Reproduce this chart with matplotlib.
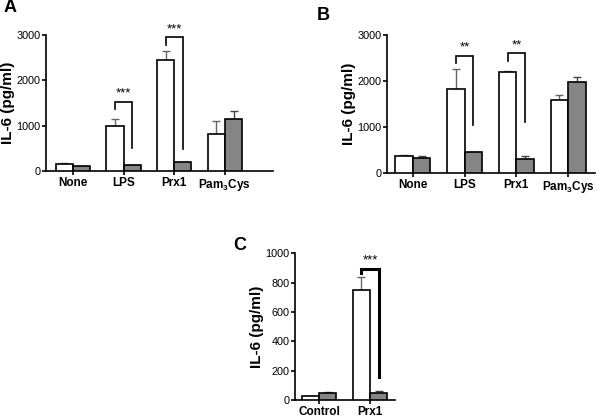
import numpy as np
import matplotlib
matplotlib.use("Agg")
import matplotlib.pyplot as plt

plt.rcParams['font.family'] = ['Liberation Sans', 'DejaVu Sans']
plt.rcParams['mathtext.fontset'] = 'custom'
plt.rcParams['mathtext.rm'] = 'Liberation Sans:bold'
plt.rcParams['mathtext.default'] = 'rm'

# panel A
a_labels = ['None', 'LPS', 'Prx1', 'Pam$_3$Cys']
a_white = [160, 987, 2447, 818]
a_white_err = [8, 148, 191, 280]
a_gray = [110, 133, 192, 1135]
a_gray_err = [5, 8, 8, 191]

# panel B
b_labels = ['None', 'LPS', 'Prx1', 'Pam$_3$Cys']
b_white = [361, 1829, 2205, 1591]
b_white_err = [39, 441, 15, 101]
b_gray = [318, 448, 304, 1988]
b_gray_err = [42, 0, 72, 94]

# panel C
c_labels = ['Control', 'Prx1']
c_white = [31, 748]
c_white_err = [0, 93]
c_gray = [49, 51]
c_gray_err = [7, 9]

# significance brackets: (group, top, left leg end, right leg end, stars)
a_sig = [(1, 1530, 1356, 516, '***'), (2, 2948, 2771, 494, '***')]
b_sig = [(1, 2545, 2386, 1048, '**'), (2, 2603, 2444, 1120, '**')]
c_sig = [(1, 897, 870, 156, '***')]

W = 0.34
GRAY = '#858585'


def panel(ax, labels, white, white_err, gray, gray_err, sig, ymax, yticks, xlim, sig_lw=1.2):
    x = np.arange(len(labels))
    ax.bar(x - W / 2, white, W, color='white', edgecolor='black', linewidth=1.2, zorder=3)
    ax.bar(x + W / 2, gray, W, color=GRAY, edgecolor='black', linewidth=1.2, zorder=3)
    ax.errorbar(x - W / 2, white, yerr=[np.zeros(len(x)), white_err], fmt='none',
                ecolor='#666666', elinewidth=1.0, capsize=3, capthick=1.0, zorder=2)
    ax.errorbar(x + W / 2, gray, yerr=[np.zeros(len(x)), gray_err], fmt='none',
                ecolor='#444444', elinewidth=1.0, capsize=3, capthick=1.0, zorder=2)
    for g, top, lft, rgt, stars in sig:
        xl, xr = g - W / 2, g + W / 2
        ax.plot([xl, xl, xr, xr], [lft, top, top, rgt], color='black', lw=sig_lw,
                solid_joinstyle='miter', zorder=4)
        ax.text(g, top + ymax * 0.015, stars, ha='center', va='bottom', fontsize=9.5)
    ax.set_xlim(*xlim)
    ax.set_ylim(0, ymax)
    ax.set_yticks(yticks)
    ax.set_xticks(x)
    ax.set_xticklabels(labels, fontsize=8.5, fontweight='bold')
    ax.tick_params(axis='y', labelsize=7.8, length=3, width=1.2, pad=1)
    ax.tick_params(axis='x', length=3, width=1.2, pad=1.5)
    for s in ['top', 'right']:
        ax.spines[s].set_visible(False)
    for s in ['left', 'bottom']:
        ax.spines[s].set_linewidth(1.2)
    ax.set_ylabel('IL-6 (pg/ml)', fontsize=11, fontweight='bold', labelpad=1)


fig = plt.figure(figsize=(6, 4.19), dpi=100)

axA = fig.add_axes([0.077, 0.592, 0.378, 0.3246])
panel(axA, a_labels, a_white, a_white_err, a_gray, a_gray_err, a_sig,
      3000, [0, 1000, 2000, 3000], (-0.53, 3.95))

axB = fig.add_axes([0.645, 0.587, 0.3467, 0.3294])
panel(axB, b_labels, b_white, b_white_err, b_gray, b_gray_err, b_sig,
      3000, [0, 1000, 2000, 3000], (-0.5, 3.52))

axC = fig.add_axes([0.4917, 0.045, 0.1667, 0.350])
panel(axC, c_labels, c_white, c_white_err, c_gray, c_gray_err, c_sig,
      1000, [0, 200, 400, 600, 800, 1000], (-0.47, 1.49), sig_lw=2.2)

fig.text(10 / 600, 1 - 8 / 419, 'A', fontsize=13, fontweight='bold', ha='center', va='center')
fig.text(323 / 600, 1 - 15 / 419, 'B', fontsize=13, fontweight='bold', ha='center', va='center')
fig.text(240 / 600, 1 - 245 / 419, 'C', fontsize=13, fontweight='bold', ha='center', va='center')

fig.savefig('out.png', dpi=100)
